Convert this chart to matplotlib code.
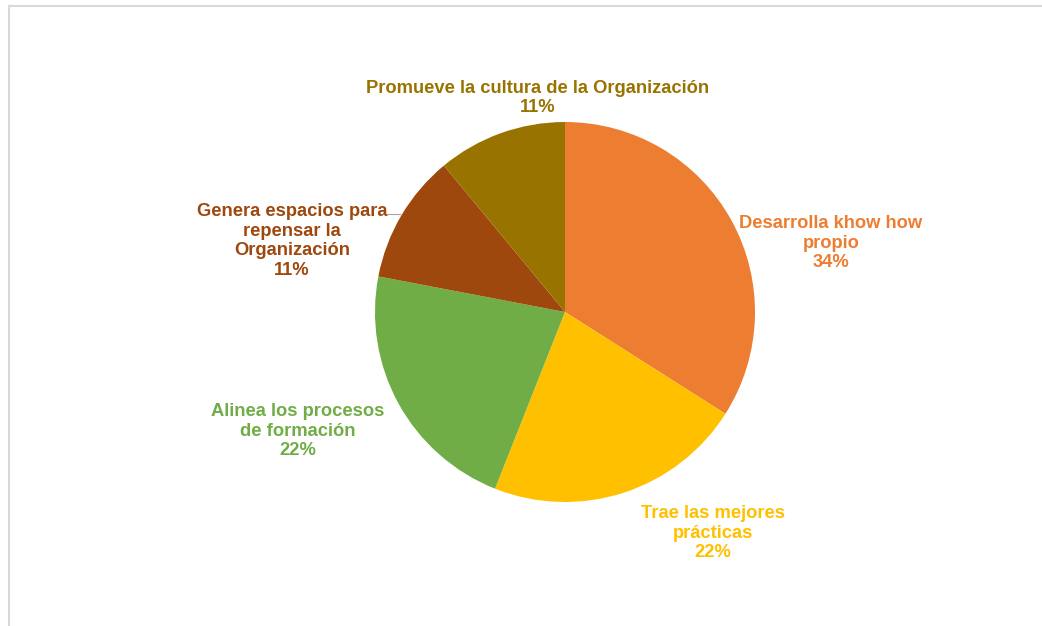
import matplotlib
matplotlib.use("Agg")
import matplotlib.pyplot as plt
from matplotlib.lines import Line2D

categories = ["Desarrolla khow how\npropio", "Trae las mejores\nprácticas",
              "Alinea los procesos\nde formación", "Genera espacios para\nrepensar la\nOrganización",
              "Promueve la cultura de la Organización"]
values = [34, 22, 22, 11, 11]
colors = ["#ED7D31", "#FFC000", "#70AD47", "#9E480E", "#997300"]

W, H = 1042, 626
fig = plt.figure(figsize=(W / 100, H / 100), dpi=100)
ax = fig.add_axes([0, 0, 1, 1])

cx, cy, r = 565, H - 312, 190
ax.pie(values, colors=colors, startangle=90, counterclock=False,
       center=(cx, cy), radius=r, frame=True,
       wedgeprops=dict(linewidth=0))
ax.set_xlim(0, W)
ax.set_ylim(0, H)
ax.set_aspect("equal")
ax.axis("off")

# label positions (pixel coords, top-based)
label_pos = [(831, 243), (713, 533), (298, 431), (292, 241), (538, 98)]
for lab, v, c, (x, y) in zip(categories, values, colors, label_pos):
    ax.text(x, H - y, f"{lab}\n{v}%", ha="center", va="center", color=c,
            fontsize=13.2, fontweight="bold", family="Liberation Sans",
            linespacing=1.2)

# leader line for small slice label
ax.plot([388, 400], [H - 214, H - 214], color="#A6A6A6", lw=0.8)

# chart border (top and left visible)
fig.add_artist(Line2D([8.5 / W, 8.5 / W], [0, 1 - 5.5 / H], transform=fig.transFigure,
                      color="#D9D9D9", lw=1.5))
fig.add_artist(Line2D([8.5 / W, 1], [1 - 5.5 / H, 1 - 5.5 / H], transform=fig.transFigure,
                      color="#D9D9D9", lw=1.5))

fig.savefig("out.png", dpi=100)
